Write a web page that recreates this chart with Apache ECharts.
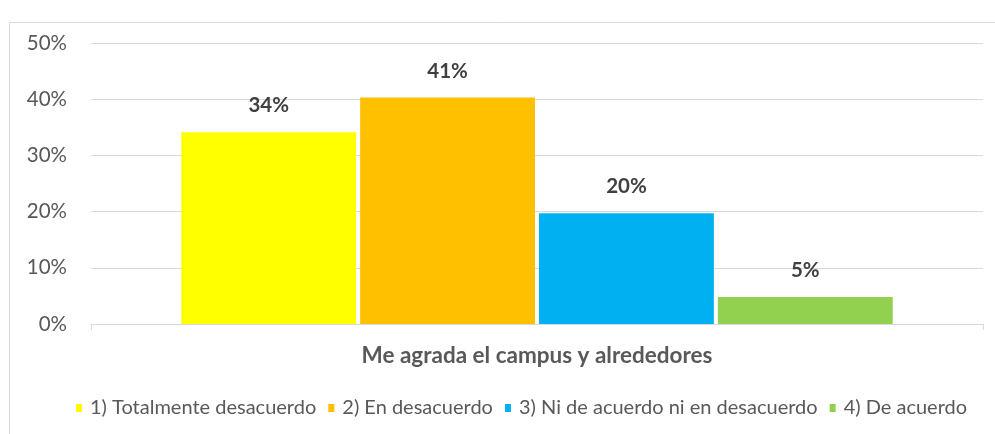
<!DOCTYPE html>
<html>
<head>
<meta charset="utf-8">
<script src="https://cdn.jsdelivr.net/npm/echarts@6/dist/echarts.min.js"></script>
<style>
html,body{margin:0;padding:0;background:#fff;}
#c{width:995px;height:434px;}
</style>
</head>
<body>
<div id="c"></div>
<script>
var categories = ["Me agrada el campus y alrededores"];
var seriesNames = ["1) Totalmente desacuerdo", "2) En desacuerdo", "3) Ni de acuerdo ni en desacuerdo", "4) De acuerdo"];
var values = [34.1, 40.3, 19.7, 4.8];
var valueLabels = ["34%", "41%", "20%", "5%"];
var colors = ["#FFFF00", "#FFC000", "#00B0F0", "#92D050"];
var yTicks = [0, 10, 20, 30, 40, 50];

var FONT = "Lato";
var chart = echarts.init(document.getElementById('c'));
var series = seriesNames.map(function (name, i) {
  return {
    name: name,
    type: 'bar',
    data: [values[i]],
    barWidth: '19.6%',
    barGap: '2.3%',
    itemStyle: { color: colors[i] },
    label: {
      show: true,
      position: 'top',
      distance: 16,
      fontFamily: FONT,
      fontSize: 20.5,
      fontWeight: 'bold',
      color: '#404040',
      formatter: function () { return valueLabels[i]; }
    }
  };
});
chart.setOption({
  animation: false,
  color: colors,
  graphic: [{
    type: 'rect',
    shape: { x: 9.5, y: 22.5, width: 1000, height: 500 },
    style: { fill: 'none', stroke: '#d9d9d9', lineWidth: 1 },
    silent: true,
    z: -1
  }],
  grid: { left: 91, right: 12, top: 43, bottom: 110 },
  legend: {
    data: seriesNames,
    left: 71,
    top: 393,
    icon: 'rect',
    itemWidth: 6,
    itemHeight: 8,
    itemGap: 12,
    textStyle: { fontFamily: FONT, fontSize: 20, color: '#595959', padding: [0, 0, 0, 3] }
  },
  xAxis: {
    type: 'category',
    data: categories,
    axisLine: { show: true, lineStyle: { color: '#d9d9d9', width: 1 } },
    axisTick: { show: true, length: 6, lineStyle: { color: '#d9d9d9' } },
    axisLabel: {
      margin: 20,
      fontFamily: FONT,
      fontSize: 22.5,
      fontWeight: 'bold',
      color: '#595959'
    }
  },
  yAxis: {
    type: 'value',
    min: yTicks[0],
    max: yTicks[yTicks.length - 1],
    interval: yTicks[1] - yTicks[0],
    axisLine: { show: false },
    axisTick: { show: false },
    splitLine: { lineStyle: { color: '#d9d9d9', width: 1 } },
    axisLabel: {
      margin: 24,
      fontFamily: FONT,
      fontSize: 20.5,
      color: '#595959',
      formatter: function (v) { return v + '%'; }
    }
  },
  series: series
});
</script>
</body>
</html>
